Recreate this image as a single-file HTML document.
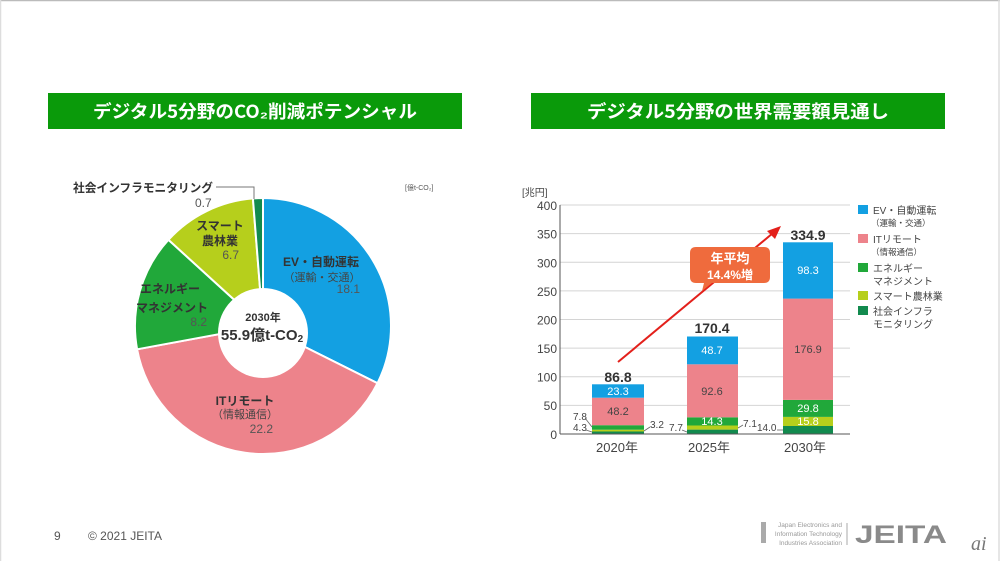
<!DOCTYPE html>
<html><head><meta charset="utf-8"><style>
html,body{margin:0;padding:0;background:#fff;}
svg{display:block;font-family:"Liberation Sans","Noto Sans CJK JP",sans-serif;}
</style></head><body>
<svg width="1000" height="561" viewBox="0 0 1000 561" xmlns="http://www.w3.org/2000/svg">
<rect x="0" y="0" width="1000" height="561" fill="#fff"/>
<line x1="0" y1="0.5" x2="1000" y2="0.5" stroke="#bbb" stroke-width="1.5"/>
<line x1="0.5" y1="0" x2="0.5" y2="561" stroke="#ddd" stroke-width="1.5"/>
<line x1="999" y1="0" x2="999" y2="561" stroke="#ddd" stroke-width="1.5"/>

<!-- Headers -->
<rect x="48" y="93" width="414" height="36" fill="#0a9a0a"/>
<text x="93" y="118" font-size="18" font-weight="bold" fill="#fff" textLength="324" lengthAdjust="spacingAndGlyphs" font-family="'Noto Sans CJK JP',sans-serif">デジタル5分野のCO₂削減ポテンシャル</text>
<rect x="531" y="93" width="414" height="36" fill="#0a9a0a"/>
<text x="587" y="118" font-size="18" font-weight="bold" fill="#fff" textLength="302" lengthAdjust="spacingAndGlyphs" font-family="'Noto Sans CJK JP',sans-serif">デジタル5分野の世界需要額見通し</text>

<!-- Donut -->
<g stroke="#fff" stroke-width="2" stroke-linejoin="round">
<path d="M263,326 L263,198 A128,128 0 0 1 377.5,383.2 Z" fill="#13a0e2"/>
<path d="M263,326 L377.5,383.2 A128,128 0 0 1 137.1,349.3 Z" fill="#ed838b"/>
<path d="M263,326 L137.1,349.3 A128,128 0 0 1 168.4,239.8 Z" fill="#21a83a"/>
<path d="M263,326 L168.4,239.8 A128,128 0 0 1 252.9,198.4 Z" fill="#b6cf1c"/>
<path d="M263,326 L252.9,198.4 A128,128 0 0 1 263,198 Z" fill="#128a4e"/>
</g>
<circle cx="263" cy="333" r="45" fill="#fff"/>
<text x="263" y="321" font-size="11" font-weight="bold" fill="#333" text-anchor="middle">2030年</text>
<text x="262" y="340" font-size="15" font-weight="bold" fill="#333" text-anchor="middle">55.9億t-CO<tspan font-size="10" dy="2">2</tspan></text>

<!-- Donut labels -->
<text x="73" y="192" font-size="12" font-weight="bold" fill="#333" textLength="140" lengthAdjust="spacingAndGlyphs">社会インフラモニタリング</text>
<polyline points="216,187 254,187 254,199" fill="none" stroke="#777" stroke-width="1"/>
<text x="195" y="207" font-size="12" fill="#555">0.7</text>
<text x="405" y="190" font-size="7" fill="#555">[億t-CO₂]</text>

<g font-size="12" font-weight="bold" fill="#333" text-anchor="middle">
<text x="220" y="230">スマート</text>
<text x="220" y="245">農林業</text>
<text x="170" y="293">エネルギー</text>
<text x="172" y="312">マネジメント</text>
<text x="321" y="266">EV・自動運転</text>
<text x="245" y="405">ITリモート</text>
</g>
<g font-size="11" fill="#444" text-anchor="middle">
<text x="322" y="281">（運輸・交通）</text>
<text x="245" y="418">（情報通信）</text>
</g>
<g font-size="12" fill="#555" text-anchor="end">
<text x="239" y="259">6.7</text>
<text x="207" y="326">8.2</text>
<text x="360" y="293">18.1</text>
<text x="273" y="433">22.2</text>
</g>

<!-- Bar chart -->
<text x="522" y="196" font-size="10" fill="#444">[兆円]</text>
<g stroke="#d4d4d4" stroke-width="1">
<line x1="560" y1="405.4" x2="850" y2="405.4"/>
<line x1="560" y1="376.8" x2="850" y2="376.8"/>
<line x1="560" y1="348.1" x2="850" y2="348.1"/>
<line x1="560" y1="319.5" x2="850" y2="319.5"/>
<line x1="560" y1="290.9" x2="850" y2="290.9"/>
<line x1="560" y1="262.3" x2="850" y2="262.3"/>
<line x1="560" y1="233.6" x2="850" y2="233.6"/>
<line x1="560" y1="205" x2="850" y2="205"/>
</g>
<g font-size="12" fill="#444" text-anchor="end">
<text x="557" y="439">0</text>
<text x="557" y="410">50</text>
<text x="557" y="381.5">100</text>
<text x="557" y="353">150</text>
<text x="557" y="324.5">200</text>
<text x="557" y="296">250</text>
<text x="557" y="267.5">300</text>
<text x="557" y="238.5">350</text>
<text x="557" y="210">400</text>
</g>

<!-- 2020 -->
<rect x="592" y="431.5" width="52" height="2.5" fill="#128a4e"/>
<rect x="592" y="429.7" width="52" height="1.8" fill="#b6cf1c"/>
<rect x="592" y="425.2" width="52" height="4.5" fill="#21a83a"/>
<rect x="592" y="397.7" width="52" height="27.5" fill="#ed838b"/>
<rect x="592" y="384.3" width="52" height="13.4" fill="#13a0e2"/>
<!-- 2025 -->
<rect x="687" y="429.6" width="51" height="4.4" fill="#128a4e"/>
<rect x="687" y="425.5" width="51" height="4.1" fill="#b6cf1c"/>
<rect x="687" y="417.3" width="51" height="8.2" fill="#21a83a"/>
<rect x="687" y="364.3" width="51" height="53" fill="#ed838b"/>
<rect x="687" y="336.5" width="51" height="27.8" fill="#13a0e2"/>
<!-- 2030 -->
<rect x="783" y="426" width="50" height="8" fill="#128a4e"/>
<rect x="783" y="416.9" width="50" height="9.1" fill="#b6cf1c"/>
<rect x="783" y="399.9" width="50" height="17" fill="#21a83a"/>
<rect x="783" y="298.6" width="50" height="101.3" fill="#ed838b"/>
<rect x="783" y="242.3" width="50" height="56.3" fill="#13a0e2"/>

<line x1="560" y1="205" x2="560" y2="434" stroke="#555" stroke-width="1"/>
<line x1="560" y1="434" x2="850" y2="434" stroke="#555" stroke-width="1"/>

<g font-size="11" text-anchor="middle">
<text x="618" y="395" fill="#fff">23.3</text>
<text x="618" y="415" fill="#444">48.2</text>
<text x="712" y="354" fill="#fff">48.7</text>
<text x="712" y="395" fill="#444">92.6</text>
<text x="712" y="425" fill="#fff">14.3</text>
<text x="808" y="274" fill="#fff">98.3</text>
<text x="808" y="353" fill="#444">176.9</text>
<text x="808" y="412" fill="#fff">29.8</text>
<text x="808" y="425" fill="#fff">15.8</text>
</g>
<g font-size="14" font-weight="bold" fill="#333" text-anchor="middle">
<text x="618" y="382">86.8</text>
<text x="712" y="333">170.4</text>
<text x="808" y="240">334.9</text>
</g>

<!-- small leader labels -->
<g font-size="10" fill="#444">
<text x="573" y="420">7.8</text>
<text x="573" y="431">4.3</text>
<text x="650" y="428">3.2</text>
<text x="669" y="431">7.7</text>
<text x="743" y="427">7.1</text>
<text x="757" y="431">14.0</text>
</g>
<g stroke="#666" stroke-width="0.8" fill="none">
<line x1="585" y1="418" x2="592" y2="427"/>
<line x1="586" y1="430" x2="592" y2="432"/>
<line x1="650" y1="427" x2="644" y2="431"/>
<line x1="682" y1="430" x2="687" y2="432"/>
<line x1="743" y1="425" x2="738" y2="428"/>
<line x1="777" y1="430" x2="783" y2="430"/>
</g>

<g font-size="13" fill="#444" text-anchor="middle">
<text x="617" y="452">2020年</text>
<text x="709" y="452">2025年</text>
<text x="805" y="452">2030年</text>
</g>

<!-- arrow -->
<line x1="618" y1="362" x2="773" y2="233" stroke="#e3201b" stroke-width="2"/>
<polygon points="781,226 767,231 775,239" fill="#e3201b"/>
<!-- callout -->
<path d="M696,247 H764 Q770,247 770,253 V277 Q770,283 764,283 H712 L702,291 L704,283 H696 Q690,283 690,277 V253 Q690,247 696,247 Z" fill="#ef6b3d"/>
<text x="730" y="263" font-size="13" font-weight="bold" fill="#fff" text-anchor="middle">年平均</text>
<text x="730" y="279" font-size="12" font-weight="bold" fill="#fff" text-anchor="middle">14.4%増</text>

<!-- legend -->
<rect x="858" y="205" width="10" height="9" fill="#13a0e2"/>
<rect x="858" y="234" width="10" height="9" fill="#ed838b"/>
<rect x="858" y="263" width="10" height="9" fill="#21a83a"/>
<rect x="858" y="291" width="10" height="9" fill="#b6cf1c"/>
<rect x="858" y="306" width="10" height="9" fill="#128a4e"/>
<g font-size="10" fill="#444">
<text x="873" y="214">EV・自動運転</text>
<text x="871" y="226" font-size="8.5">（運輸・交通）</text>
<text x="873" y="243">ITリモート</text>
<text x="871" y="255" font-size="8.5">（情報通信）</text>
<text x="873" y="272">エネルギー</text>
<text x="873" y="285">マネジメント</text>
<text x="873" y="300">スマート農林業</text>
<text x="873" y="315">社会インフラ</text>
<text x="873" y="328">モニタリング</text>
</g>

<!-- footer -->
<text x="54" y="540" font-size="12" fill="#555">9</text>
<text x="88" y="540" font-size="12" fill="#555">© 2021 JEITA</text>
<rect x="761" y="522" width="5" height="21" fill="#aaa"/>
<g font-size="6.5" fill="#999" text-anchor="end">
<text x="842" y="527">Japan Electronics and</text>
<text x="842" y="536">Information Technology</text>
<text x="842" y="545">Industries Association</text>
</g>
<line x1="847" y1="523" x2="847" y2="545" stroke="#aaa" stroke-width="1"/>
<text x="855" y="543" font-size="25" font-weight="bold" fill="#8a8a8a" textLength="92" lengthAdjust="spacingAndGlyphs">JEITA</text>
<text x="971" y="550" font-size="20" font-style="italic" fill="#777" font-family="'Liberation Serif',serif">ai</text>
</svg>
</body></html>
